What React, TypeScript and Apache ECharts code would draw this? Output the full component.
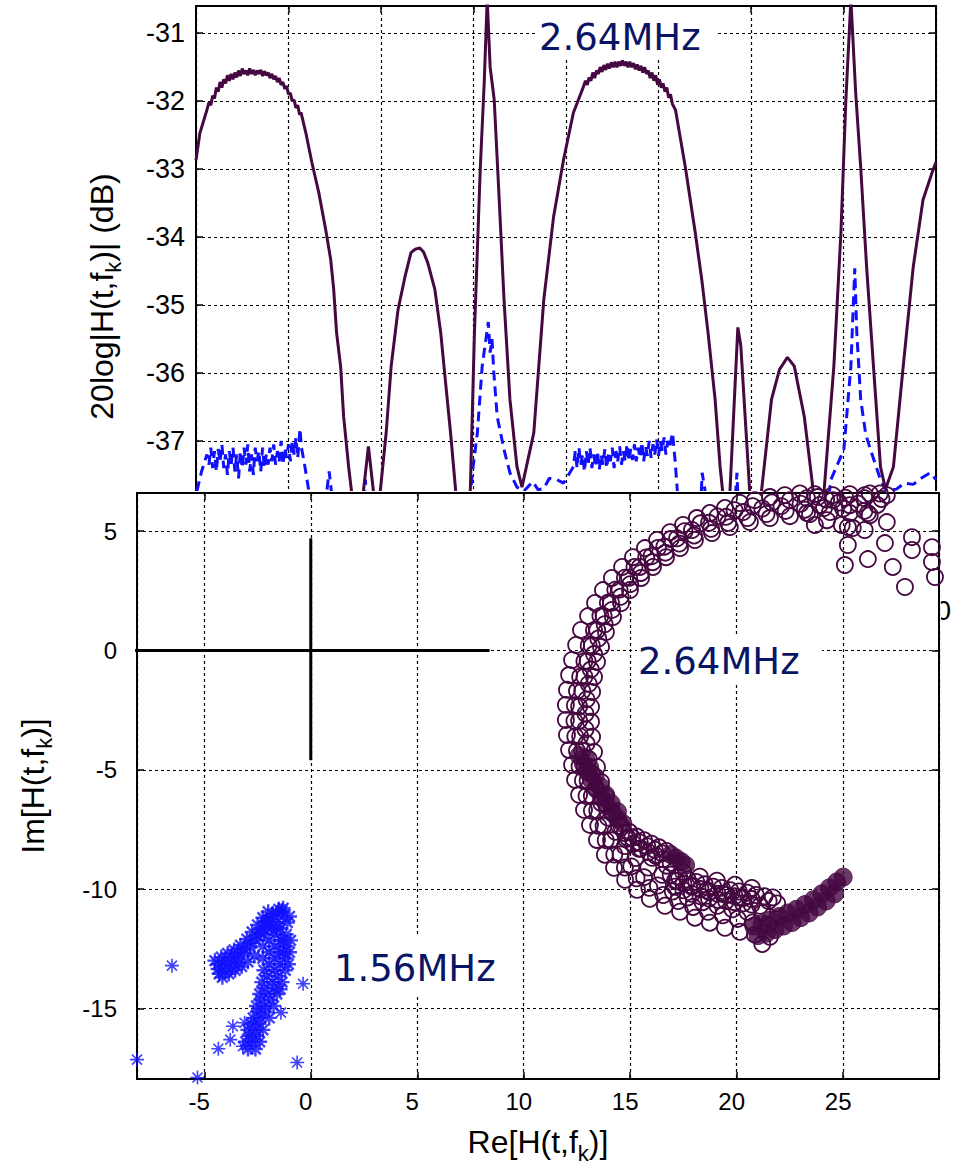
import React, { useEffect, useRef } from 'react';
import * as echarts from 'echarts';

// ---------------- top panel: 20log|H(t,f_k)| ----------------
const topYRange = [-39.15, -30.6];

// 2.64 MHz magnitude (solid purple)
const mag264: number[][] = [
  [0, -32.87], [0.21, -32.47], [0.59, -32.13], [0.7, -32.02], [0.8, -32.06], [0.9, -31.92], [1.0, -31.96],
  [1.1, -31.8], [1.2, -31.86], [1.3, -31.72], [1.4, -31.8], [1.5, -31.68], [1.6, -31.74], [1.7, -31.62],
  [1.8, -31.7], [1.9, -31.6], [2.0, -31.68], [2.1, -31.58], [2.2, -31.65], [2.3, -31.55], [2.4, -31.63],
  [2.5, -31.52], [2.6, -31.6], [2.7, -31.55], [2.8, -31.62], [2.9, -31.52], [3.0, -31.6], [3.1, -31.54],
  [3.2, -31.62], [3.3, -31.55], [3.4, -31.6], [3.5, -31.54], [3.6, -31.63], [3.7, -31.56], [3.8, -31.62],
  [3.9, -31.58], [4.0, -31.66], [4.1, -31.6], [4.2, -31.68], [4.3, -31.63], [4.4, -31.72], [4.5, -31.66],
  [4.6, -31.76], [4.7, -31.72], [4.8, -31.82], [4.9, -31.78], [5.0, -31.9], [5.1, -31.88], [5.2, -32.0],
  [5.3, -31.98], [5.4, -32.1], [5.5, -32.06], [5.6, -32.2], [5.68, -32.17],
  [5.94, -32.47], [6.27, -32.91], [6.64, -33.35], [7.01, -33.89], [7.28, -34.33], [7.44, -34.76], [7.6, -35.41],
  [7.82, -35.91], [7.98, -36.64], [8.25, -37.38], [8.41, -37.75], [8.7, -38.6], [9.05, -37.74], [9.32, -37.08],
  [9.59, -37.74], [9.78, -38.5], [9.96, -37.74], [10.28, -36.88], [10.55, -35.9], [10.92, -35.07], [11.3, -34.58],
  [11.62, -34.23], [11.85, -34.18], [12.1, -34.16], [12.3, -34.22], [12.53, -34.38], [12.91, -34.77],
  [13.23, -35.41], [13.49, -36.14], [13.76, -36.88], [14.03, -37.71], [14.35, -38.6], [14.83, -37.71],
  [15.05, -35.41], [15.37, -32.97], [15.58, -31.73], [15.74, -30.5], [15.9, -31.5], [16.12, -31.98],
  [16.39, -33.45], [16.65, -34.92], [16.97, -36.39], [17.35, -37.38], [17.62, -37.68], [18.26, -36.88],
  [18.8, -34.92], [19.33, -33.7], [19.87, -32.86], [20.4, -32.17],
  [20.94, -31.79], [21.05, -31.7], [21.15, -31.76], [21.25, -31.65], [21.35, -31.7], [21.45, -31.58],
  [21.55, -31.66], [21.65, -31.55], [21.75, -31.6], [21.85, -31.5], [21.95, -31.57], [22.05, -31.47],
  [22.15, -31.54], [22.25, -31.45], [22.35, -31.52], [22.45, -31.43], [22.55, -31.5], [22.65, -31.42],
  [22.75, -31.5], [22.85, -31.42], [22.95, -31.48], [23.05, -31.4], [23.15, -31.48], [23.25, -31.42],
  [23.35, -31.5], [23.45, -31.42], [23.55, -31.5], [23.65, -31.44], [23.75, -31.53], [23.85, -31.46],
  [23.95, -31.55], [24.05, -31.48], [24.15, -31.58], [24.25, -31.5], [24.35, -31.6], [24.45, -31.55],
  [24.55, -31.66], [24.65, -31.58], [24.75, -31.7], [24.85, -31.62], [24.95, -31.76], [25.05, -31.68],
  [25.15, -31.8], [25.25, -31.74], [25.35, -31.86], [25.45, -31.8], [25.55, -31.95], [25.65, -31.9],
  [25.75, -32.04], [25.92, -32.13],
  [26.45, -32.97], [26.99, -33.94],
  [27.36, -34.67], [27.68, -35.41], [28.06, -36.39], [28.33, -37.38], [28.49, -37.8], [28.7, -38.6],
  [28.86, -37.76], [29.29, -35.33], [29.45, -35.6], [29.93, -37.74], [30.2, -38.6], [30.58, -37.71],
  [31.11, -36.39], [31.54, -35.95], [31.97, -35.77], [32.34, -35.9], [32.88, -36.64], [33.31, -37.61],
  [33.63, -38.6], [33.95, -37.74], [34.48, -35.9], [34.86, -33.94], [35.13, -31.98], [35.4, -30.5],
  [35.66, -31.88], [35.93, -32.97], [36.25, -34.44], [36.62, -35.9], [37.0, -37.38], [37.27, -37.71],
  [37.7, -37.38], [38.23, -35.9], [38.77, -34.44], [39.3, -33.45], [39.84, -33.01], [40, -32.9],
];

// 1.56 MHz magnitude (dashed blue)
const mag156: number[][] = [
  [0.05, -37.74], [0.3, -37.45], [0.59, -37.2], [0.7, -37.35], [0.8, -37.1], [0.9, -37.4], [1.0, -37.15],
  [1.1, -37.45], [1.2, -37.12], [1.3, -37.3], [1.4, -37.05], [1.5, -37.4], [1.6, -37.2], [1.7, -37.5],
  [1.8, -37.15], [1.9, -37.35], [2.0, -37.1], [2.1, -37.45], [2.2, -37.2], [2.3, -37.55], [2.4, -37.15],
  [2.5, -37.4], [2.6, -37.1], [2.7, -37.35], [2.8, -37.05], [2.9, -37.45], [3.0, -37.2], [3.1, -37.5],
  [3.2, -37.1], [3.3, -37.3], [3.4, -37.15], [3.5, -37.45], [3.6, -37.1], [3.7, -37.4], [3.8, -37.2],
  [3.9, -37.35], [4.0, -37.1], [4.1, -37.3], [4.2, -37.05], [4.3, -37.35], [4.4, -37.15], [4.5, -37.3],
  [4.6, -37.0], [4.7, -37.35], [4.8, -37.1], [4.9, -37.25], [5.0, -37.05], [5.1, -37.3], [5.2, -37.0],
  [5.3, -37.2], [5.4, -36.95], [5.5, -37.25], [5.62, -36.82], [5.7, -37.1], [5.84, -37.3], [6.1, -37.74],
  [6.3, -38.5], [6.9, -38.5], [7.07, -37.74], [7.2, -37.45], [7.34, -37.8], [7.5, -38.5], [9.0, -38.5],
  [9.16, -37.57], [9.3, -38.5], [14.6, -38.5], [14.94, -37.47], [15.21, -36.88], [15.47, -35.9],
  [15.8, -35.25], [15.9, -35.7], [16.0, -35.5], [16.1, -36.0], [16.28, -36.64], [16.65, -37.13],
  [16.97, -37.47], [17.35, -37.68], [17.72, -37.74], [18.2, -37.6], [18.5, -37.72], [18.8, -37.7],
  [19.1, -37.55], [19.49, -37.57], [19.87, -37.62], [20.4, -37.38], [20.5, -37.15], [20.6, -37.4],
  [20.7, -37.1], [20.8, -37.35], [20.9, -37.2], [21.0, -37.45], [21.1, -37.15], [21.2, -37.35], [21.3, -37.1],
  [21.4, -37.4], [21.5, -37.2], [21.6, -37.38], [21.7, -37.15], [21.8, -37.42], [21.9, -37.2], [22.0, -37.35],
  [22.1, -37.12], [22.2, -37.4], [22.3, -37.18], [22.4, -37.3], [22.5, -37.1], [22.6, -37.4], [22.7, -37.15],
  [22.8, -37.3], [22.9, -37.08], [23.0, -37.35], [23.1, -37.15], [23.2, -37.3], [23.3, -37.05], [23.4, -37.3],
  [23.5, -37.12], [23.6, -37.28], [23.7, -37.05], [23.8, -37.3], [23.9, -37.1], [24.0, -37.25], [24.1, -37.02],
  [24.2, -37.3], [24.3, -37.08], [24.4, -37.22], [24.5, -37.0], [24.6, -37.25], [24.7, -37.05], [24.8, -37.2],
  [24.9, -36.98], [25.0, -37.22], [25.1, -37.0], [25.2, -37.15], [25.3, -36.95], [25.4, -37.2], [25.5, -37.0],
  [25.6, -37.1], [25.76, -36.88], [25.9, -37.3], [26.02, -37.74], [26.3, -38.5], [27.2, -38.5],
  [27.36, -37.47], [27.52, -37.74], [27.7, -38.5], [29.0, -38.5], [29.24, -37.47], [29.4, -38.5],
  [33.9, -38.5], [34.32, -37.57], [35.02, -37.13], [35.4, -35.9], [35.61, -34.46], [35.72, -35.41],
  [35.93, -36.39], [36.2, -36.9], [36.46, -37.13], [37.0, -37.57], [37.32, -37.74], [37.86, -37.71],
  [38.3, -37.62], [38.77, -37.64], [39.2, -37.55], [39.68, -37.47], [40, -37.57],
];

// ---------------- bottom panel: Im vs Re ----------------
const reRange = [-8.16, 29.5];
const imRange = [-17.96, 6.6];

const crossH: number[][] = [[-8.35, 0], [8.4, 0]];
const crossV: number[][] = [[0, 4.7], [0, -4.6]];

// 2.64 MHz channel samples (open circles)
const ringOuter: number[][] = [
  [27.05, 6.51], [26.25, 6.58], [25.31, 6.55], [24.51, 6.51], [23.67, 6.55], [22.97, 6.58], [22.26, 6.51],
  [21.56, 6.43], [20.85, 6.3], [20.15, 6.18], [19.45, 5.97], [18.74, 5.76], [18.13, 5.55], [17.48, 5.26],
  [16.87, 4.96], [16.26, 4.63], [15.69, 4.29], [15.13, 3.91], [14.62, 3.5], [14.14, 3.04], [13.72, 2.53],
  [13.35, 1.99], [13.02, 1.44], [12.69, 0.86], [12.46, 0.23], [12.27, -0.4], [12.13, -1.03], [12.03, -1.65],
  [11.98, -2.28], [11.98, -2.91], [12.03, -3.54], [12.13, -4.17], [12.27, -4.79], [12.41, -5.42],
  [12.6, -6.05], [12.83, -6.68], [13.11, -7.31], [13.44, -7.94], [13.81, -8.56], [14.24, -9.11],
  [14.76, -9.61], [15.32, -10.03], [15.92, -10.41], [16.63, -10.7], [17.34, -10.95], [18.04, -11.2],
  [18.74, -11.41], [19.45, -11.62], [20.15, -11.79], [20.85, -11.91], [21.56, -12.0], [21.2, -12.3],
];
const ringOuterMid: number[][] = [
  [26.8, 6.35], [26.0, 6.38], [25.1, 6.4], [24.2, 6.33], [23.3, 6.38], [22.5, 6.3], [21.65, 6.2], [20.75, 6.05],
  [19.9, 5.88], [19.1, 5.62], [18.3, 5.33], [17.55, 5.0], [16.9, 4.67], [16.3, 4.3], [15.75, 3.9], [15.2, 3.5],
  [14.75, 3.05], [14.3, 2.55], [13.95, 2.0], [13.6, 1.45], [13.3, 0.85], [13.05, 0.2], [12.85, -0.45],
  [12.65, -1.1], [12.5, -1.7], [12.4, -2.3], [12.38, -2.95], [12.42, -3.6], [12.5, -4.2], [12.62, -4.85],
  [12.78, -5.45], [12.95, -6.1], [13.2, -6.72], [13.5, -7.35], [13.85, -7.95], [14.25, -8.55], [14.75, -9.1],
  [15.3, -9.55], [15.9, -9.95], [16.55, -10.25], [17.25, -10.5], [17.95, -10.75], [18.65, -10.95],
  [19.35, -11.1], [20.05, -11.25], [20.75, -11.4], [21.45, -11.5],
];
const ringMiddle: number[][] = [
  [26.6, 6.1], [25.7, 6.15], [24.8, 6.2], [23.9, 6.1], [23.0, 6.15], [22.1, 6.05], [21.2, 5.95], [20.3, 5.8],
  [19.5, 5.6], [18.7, 5.35], [17.9, 5.05], [17.2, 4.7], [16.6, 4.35], [16.0, 3.95], [15.45, 3.5], [14.95, 3.05],
  [14.5, 2.55], [14.1, 2.0], [13.75, 1.45], [13.45, 0.85], [13.2, 0.2], [13.0, -0.45], [12.85, -1.1],
  [12.75, -1.7], [12.6, -2.35], [12.6, -2.95], [12.65, -3.6], [12.75, -4.2], [12.85, -4.85], [13.0, -5.45],
  [13.2, -6.1], [13.45, -6.7], [13.75, -7.35], [14.1, -7.95], [14.55, -8.55], [15.05, -9.05], [15.65, -9.5],
  [16.3, -9.85], [17.0, -10.1], [17.7, -10.35], [18.4, -10.55], [19.1, -10.7], [19.8, -10.85], [20.5, -10.95],
  [21.2, -11.0],
];
const ringInnerMid: number[][] = [
  [26.0, 5.85], [25.0, 5.95], [24.1, 5.97], [23.2, 5.9], [22.3, 5.85], [21.4, 5.72], [20.5, 5.55], [19.6, 5.35],
  [18.8, 5.1], [18.0, 4.82], [17.3, 4.48], [16.65, 4.1], [16.05, 3.7], [15.5, 3.25], [15.0, 2.78], [14.55, 2.25],
  [14.15, 1.7], [13.8, 1.1], [13.5, 0.5], [13.3, -0.15], [13.15, -0.8], [13.05, -1.4], [12.95, -2.05],
  [12.9, -2.65], [12.9, -3.3], [12.95, -3.9], [13.05, -4.55], [13.2, -5.15], [13.4, -5.8], [13.65, -6.4],
  [13.95, -7.0], [14.3, -7.6], [14.75, -8.2], [15.25, -8.7], [15.85, -9.1], [16.5, -9.4], [17.2, -9.65],
  [17.9, -9.85], [18.6, -10.05], [19.35, -10.2], [20.1, -10.35],
];
const ringInner: number[][] = [
  [26.25, 5.67], [25.31, 5.76], [24.38, 5.8], [23.44, 5.72], [22.5, 5.63], [21.56, 5.55], [20.62, 5.38],
  [19.68, 5.17], [18.84, 4.92], [18.04, 4.63], [17.34, 4.29], [16.68, 3.91], [16.07, 3.5], [15.51, 3.04],
  [14.99, 2.53], [14.57, 1.99], [14.19, 1.4], [13.86, 0.77], [13.63, 0.15], [13.44, -0.48], [13.3, -1.11],
  [13.21, -1.74], [13.16, -2.37], [13.16, -2.99], [13.21, -3.62], [13.3, -4.25], [13.44, -4.88],
  [13.63, -5.51], [13.86, -6.13], [14.14, -6.76], [14.47, -7.35], [14.89, -7.85], [15.41, -8.31],
  [16.02, -8.69], [16.72, -9.02], [17.48, -9.28], [18.27, -9.48], [19.07, -9.65], [19.92, -9.82], [20.71, -9.95],
];
const ringLobes: number[][] = [
  [14.6, -7.4], [14.95, -7.6], [15.3, -7.8], [15.65, -7.95], [16.0, -8.1], [16.35, -8.25], [16.7, -8.4],
  [14.8, -7.9], [15.15, -8.1], [15.5, -8.3], [15.85, -8.45], [16.2, -8.6], [16.55, -8.75], [16.9, -8.9],
  [14.75, -7.65], [15.1, -7.85], [15.45, -8.05], [15.8, -8.2], [16.15, -8.35], [16.5, -8.5],
  [16.9, -9.4], [17.3, -9.5], [17.7, -9.6], [18.1, -9.7], [18.5, -9.8], [18.9, -9.9], [19.3, -9.95],
  [19.7, -10.05], [20.1, -10.1], [20.5, -10.15], [20.9, -10.25], [21.3, -10.3], [21.7, -10.35],
  [17.1, -9.9], [17.5, -10.05], [17.9, -10.2], [18.3, -10.3], [18.7, -10.4], [19.1, -10.45], [19.5, -10.5],
  [19.9, -10.55], [20.3, -10.6], [20.7, -10.65], [21.1, -10.7],
  [17.1, -9.65], [17.5, -9.78], [17.9, -9.9], [18.3, -10.0], [18.7, -10.12], [19.1, -10.2], [19.5, -10.25],
  [19.9, -10.3], [20.3, -10.38], [20.7, -10.42], [21.5, -10.5], [21.9, -10.6],
];
const ringSparse: number[][] = [
  [23.3, 5.76], [24.24, 5.46], [23.67, 5.26], [24.93, 5.26], [25.22, 5.17], [25.31, 6.09], [26.01, 5.05],
  [25.45, 5.13], [25.22, 4.42], [25.08, 3.58], [26.16, 3.83], [26.16, 5.76], [27.05, 5.38], [26.96, 4.5],
  [27.33, 3.5], [27.9, 2.66], [28.23, 4.75], [28.23, 4.21], [29.17, 4.33], [29.17, 3.71], [29.31, 3.08],
  [26.72, 6.58], [26.01, 6.51], [23.81, 6.43], [24.51, 6.3],
];
// samples so dense that they merge into solid marks
const ringSolid: number[][] = [
  [12.6, -4.4], [12.8, -4.75], [13.0, -5.1], [13.2, -5.45], [13.4, -5.8], [13.65, -6.15], [13.9, -6.5],
  [14.15, -6.8], [14.4, -7.05], [14.65, -7.25], [12.9, -4.5], [13.1, -4.9], [13.35, -5.3], [13.6, -5.7],
  [13.85, -6.05], [14.1, -6.4], [14.4, -6.75], [16.9, -8.55], [17.15, -8.7], [17.4, -8.85], [17.6, -9.0],
  [20.8, -11.55], [21.2, -11.45], [21.6, -11.3], [22.0, -11.15], [22.4, -11.0], [22.8, -10.85], [23.2, -10.65],
  [23.6, -10.45], [24.0, -10.2], [24.35, -9.95], [24.7, -9.7], [25.0, -9.5], [21.0, -11.95], [21.4, -11.85],
  [21.8, -11.7], [22.2, -11.55], [22.6, -11.4], [23.0, -11.2], [23.4, -11.0], [23.8, -10.75], [24.2, -10.5],
  [24.6, -10.2],
];

// 1.56 MHz channel samples (stars)
const starCluster: number[][] = [
  [-4.35, -13.35], [-4.05, -13.2], [-3.75, -13.05], [-3.45, -12.9], [-3.15, -12.7], [-2.85, -12.45],
  [-2.6, -12.15], [-2.35, -11.85], [-2.1, -11.55], [-1.85, -11.25], [-1.6, -11.0], [-1.35, -10.9],
  [-4.5, -13.0], [-4.2, -12.85], [-3.9, -12.7], [-3.6, -12.55], [-3.3, -12.35], [-3.0, -12.1],
  [-2.75, -11.8], [-2.5, -11.5], [-2.25, -11.2], [-2.0, -10.95], [-1.3, -10.8],
  [-4.15, -13.7], [-3.85, -13.55], [-3.55, -13.4], [-3.25, -13.25], [-2.95, -13.05], [-2.65, -12.8],
  [-4.3, -13.55], [-4.0, -13.45], [-3.7, -13.3], [-3.4, -13.1],
  [-4.35, -13.15], [-4.05, -13.0], [-3.75, -12.85], [-3.45, -12.65], [-3.15, -12.5], [-2.85, -12.25],
  [-2.55, -11.95], [-2.3, -11.65], [-2.05, -11.35], [-1.8, -11.05], [-1.5, -10.85],
  [-2.1, -11.4], [-1.6, -11.4], [-1.1, -11.4], [-2.2, -11.9], [-1.7, -11.9], [-1.15, -11.9], [-1.45, -11.65],
  [-2.25, -12.4], [-1.7, -12.4], [-1.15, -12.4], [-1.95, -12.15], [-1.4, -12.15], [-2.25, -12.9], [-1.7, -12.9],
  [-1.2, -12.9], [-1.95, -12.65], [-1.45, -12.65], [-2.2, -13.4], [-1.7, -13.4], [-1.2, -13.4], [-1.95, -13.15],
  [-1.45, -13.15], [-2.3, -13.9], [-1.8, -13.9], [-1.35, -13.9], [-2.05, -13.65], [-1.55, -13.65],
  [-2.4, -14.4], [-2.0, -14.4], [-1.6, -14.4], [-2.2, -14.15], [-1.75, -14.15], [-2.55, -14.9], [-2.15, -14.9],
  [-1.75, -14.9], [-2.35, -14.65], [-1.9, -14.65], [-2.7, -15.4], [-2.35, -15.4], [-1.95, -15.4],
  [-2.5, -15.15], [-2.15, -15.15], [-2.95, -15.9], [-2.6, -15.9], [-2.25, -15.9], [-2.8, -15.65],
  [-2.45, -15.65], [-3.05, -16.4], [-2.75, -16.4], [-2.4, -16.4], [-2.9, -16.15], [-2.55, -16.15],
  [-2.95, -16.7], [-2.6, -16.7], [-1.44, -14.2], [-1.0, -11.15], [-0.95, -12.15], [-1.0, -12.65],
  [-1.05, -13.15], [-1.3, -11.15], [-1.85, -11.65], [-1.6, -11.65], [-1.3, -12.15], [-1.3, -12.65],
];
const starOutliers: number[][] = [
  [-1.4, -15.18], [-3.11, -15.6], [-3.66, -15.75], [-3.78, -16.31], [-3.19, -16.59], [-4.34, -16.69],
  [-0.36, -13.97], [-0.64, -17.27], [-6.52, -13.21], [-8.16, -17.15], [-5.32, -17.9],
];

const PURPLE = '#450841';
const BLUE = '#1010ff';
const NAVY = '#0a1464';
const SANS = '"Liberation Sans", Arial, sans-serif';
const NARROW = '"Liberation Sans Narrow", "Liberation Sans", Arial, sans-serif';
const LABEL_FONT = '"DejaVu Sans", Verdana, sans-serif';
const STAR = 'path://M8,0L8,16M0,8L16,8M2.3,2.3L13.7,13.7M2.3,13.7L13.7,2.3';

const isMultiple = (v: number, step: number) => Math.abs(v / step - Math.round(v / step)) < 1e-6;

const gridLine = { show: true, lineStyle: { color: '#000', type: [3, 3] as number[], width: 1.2 } };
const blackAxisLine = { show: true, onZero: false, lineStyle: { color: '#000', width: 2 } };
const inTick = { show: true, inside: true, length: 7, lineStyle: { color: '#000', width: 1.5 } };

const subRich = { k: { fontSize: 22, verticalAlign: 'bottom' as const, lineHeight: 22, fontFamily: SANS, color: '#000' } };

function topOption(): any {
  return {
    animation: false,
    backgroundColor: '#fff',
    grid: { left: 196, top: 6, right: 11, bottom: 582, show: false },
    xAxis: [
      {
        type: 'value', min: 0, max: 40, interval: 5,
        axisLine: blackAxisLine, axisTick: inTick, splitLine: gridLine,
        axisLabel: { fontSize: 27, color: '#000', fontFamily: SANS, margin: 10 },
      },
      {
        type: 'value', min: 0, max: 40, interval: 5, position: 'top',
        axisLine: blackAxisLine, axisTick: inTick, splitLine: { show: false }, axisLabel: { show: false },
      },
    ],
    yAxis: [
      {
        type: 'value', min: topYRange[0], max: topYRange[1], minInterval: 1, maxInterval: 1, splitNumber: 8,
        axisLine: blackAxisLine, axisTick: inTick, splitLine: gridLine,
        axisLabel: {
          fontSize: 27, color: '#000', fontFamily: SANS, margin: 11,
          formatter: (v: number) => (isMultiple(v, 1) ? String(Math.round(v)) : ''),
        },
        name: '20log|H(t,f{k|k})| (dB)', nameLocation: 'middle', nameGap: 72,
        nameTextStyle: { fontSize: 32, fontFamily: SANS, color: '#000', lineHeight: 44, rich: subRich },
      },
      {
        type: 'value', min: topYRange[0], max: topYRange[1], minInterval: 1, maxInterval: 1, splitNumber: 8,
        position: 'right', axisLine: blackAxisLine, axisTick: inTick, splitLine: { show: false }, axisLabel: { show: false },
      },
    ],
    graphic: [
      { type: 'rect', z: 1, shape: { x: 535, y: 7, width: 183, height: 51 }, style: { fill: '#fff' } },
      {
        type: 'text', z: 5, x: 539, y: 37,
        style: { text: '2.64MHz', fill: NAVY, font: `37px ${LABEL_FONT}`, align: 'left', verticalAlign: 'middle' },
      },
    ],
    series: [
      {
        type: 'line', data: mag156, showSymbol: false, symbol: 'none', z: 2,
        lineStyle: { color: BLUE, width: 3, type: [10, 6] },
      },
      {
        type: 'line', data: mag264, showSymbol: false, symbol: 'none', z: 3,
        lineStyle: { color: PURPLE, width: 3 },
      },
    ],
  };
}

function bottomOption(): any {
  const fmt5 = (v: number) => (isMultiple(v, 5) ? String(Math.round(v)) : '');
  return {
    animation: false,
    backgroundColor: 'transparent',
    grid: { left: 137, top: 493, right: 15, bottom: 90, show: false },
    xAxis: [
      {
        type: 'value', min: reRange[0], max: reRange[1], minInterval: 5, maxInterval: 5, splitNumber: 7,
        axisLine: blackAxisLine, axisTick: inTick, splitLine: gridLine,
        axisLabel: { fontSize: 24, color: '#000', fontFamily: NARROW, margin: 10, padding: [0, 10, 0, 0], formatter: fmt5 },
        name: 'Re[H(t,f{k|k})]', nameLocation: 'middle', nameGap: 41,
        nameTextStyle: { fontSize: 32, fontFamily: SANS, color: '#000', lineHeight: 44, rich: subRich },
      },
      {
        type: 'value', min: reRange[0], max: reRange[1], minInterval: 5, maxInterval: 5, splitNumber: 7,
        position: 'top', axisLine: blackAxisLine, axisTick: inTick, splitLine: { show: false }, axisLabel: { show: false },
      },
    ],
    yAxis: [
      {
        type: 'value', min: imRange[0], max: imRange[1], minInterval: 5, maxInterval: 5, splitNumber: 5,
        axisLine: blackAxisLine, axisTick: inTick, splitLine: gridLine,
        axisLabel: { fontSize: 24, color: '#000', fontFamily: NARROW, margin: 20, padding: [0, 0, 10, 0], formatter: fmt5 },
        name: 'Im[H(t,f{k|k})]', nameLocation: 'middle', nameGap: 82,
        nameTextStyle: { fontSize: 32, fontFamily: SANS, color: '#000', lineHeight: 44, rich: subRich },
      },
      {
        type: 'value', min: imRange[0], max: imRange[1], minInterval: 5, maxInterval: 5, splitNumber: 5,
        position: 'right', axisLine: blackAxisLine, axisTick: inTick, splitLine: { show: false }, axisLabel: { show: false },
      },
    ],
    graphic: [
      { type: 'rect', z: -10, shape: { x: 0, y: 491, width: 941, height: 678 }, style: { fill: '#fff' } },
      { type: 'rect', z: 1, shape: { x: 637, y: 637, width: 185, height: 45 }, style: { fill: '#fff' } },
      {
        type: 'text', z: 5, x: 638, y: 661,
        style: { text: '2.64MHz', fill: NAVY, font: `37px ${LABEL_FONT}`, align: 'left', verticalAlign: 'middle' },
      },
      { type: 'rect', z: 1, shape: { x: 330, y: 937, width: 175, height: 60 }, style: { fill: '#fff' } },
      {
        type: 'text', z: 5, x: 334, y: 968,
        style: { text: '1.56MHz', fill: NAVY, font: `37px ${LABEL_FONT}`, align: 'left', verticalAlign: 'middle' },
      },
    ],
    series: [
      { type: 'line', data: crossH, symbol: 'none', clip: false, z: 2, lineStyle: { color: '#000', width: 3 } },
      { type: 'line', data: crossV, symbol: 'none', clip: false, z: 2, lineStyle: { color: '#000', width: 3 } },
      {
        type: 'scatter',
        data: [...ringOuter, ...ringOuterMid, ...ringMiddle, ...ringInnerMid, ...ringInner, ...ringLobes, ...ringSparse],
        symbol: 'circle', symbolSize: 16, z: 3,
        itemStyle: { color: 'transparent', borderColor: PURPLE, borderWidth: 1.8, opacity: 1 },
      },
      {
        type: 'scatter', data: ringSolid, symbol: 'circle', symbolSize: 18, z: 3,
        itemStyle: { color: PURPLE, borderColor: PURPLE, borderWidth: 1 },
      },
      {
        type: 'scatter', data: starCluster, symbol: STAR, symbolSize: 15, z: 4,
        itemStyle: { color: 'transparent', borderColor: BLUE, borderWidth: 2.4 },
      },
      {
        type: 'scatter', data: starOutliers, symbol: STAR, symbolSize: 14, z: 4,
        itemStyle: { color: 'transparent', borderColor: BLUE, borderWidth: 1.6 },
      },
    ],
  };
}

function Chart({ build }: { build: () => any }) {
  const ref = useRef<HTMLDivElement>(null);
  useEffect(() => {
    if (!ref.current) return;
    const chart = echarts.init(ref.current, null, { renderer: 'svg' });
    chart.setOption(build());
    return () => chart.dispose();
  }, [build]);
  return <div ref={ref} style={{ position: 'absolute', left: 0, top: 0, width: 954, height: 1169 }} />;
}

export default function App() {
  return (
    <div style={{ position: 'absolute', left: 0, top: 0, width: 954, height: 1169, background: '#fff', overflow: 'hidden' }}>
      <Chart build={topOption} />
      <Chart build={bottomOption} />
    </div>
  );
}
